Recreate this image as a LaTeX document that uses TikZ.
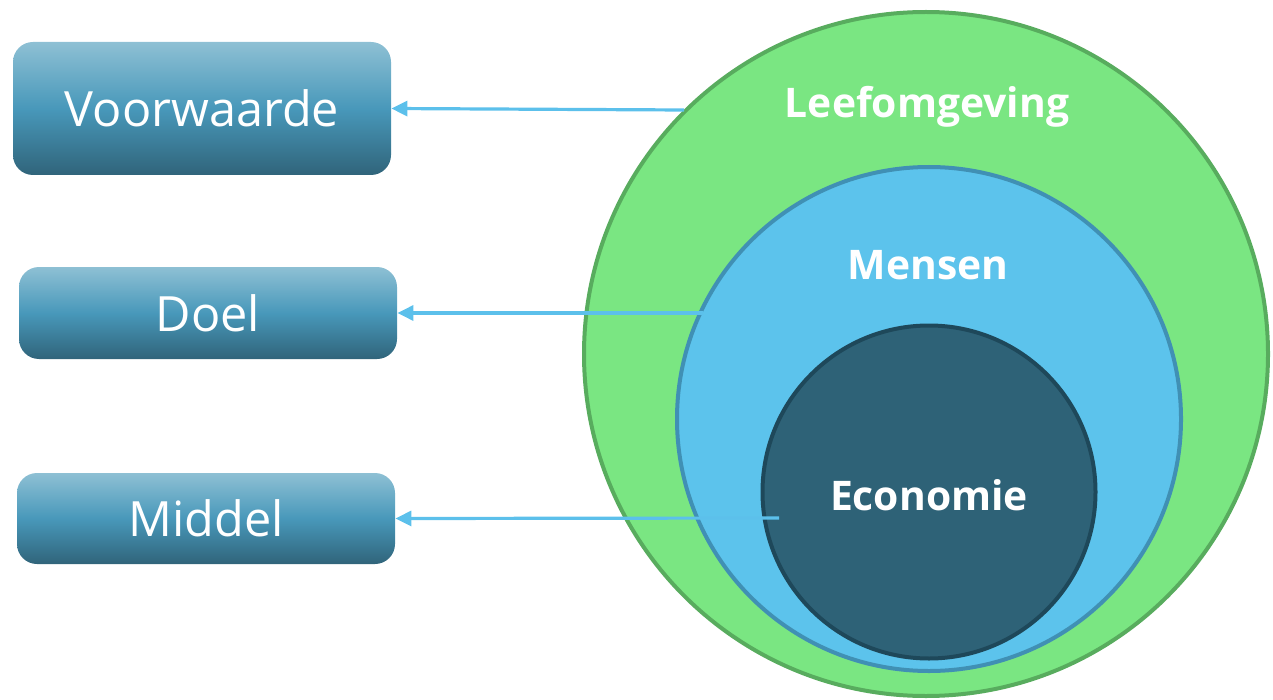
\documentclass[tikz,border=0pt]{standalone}
\usepackage{fontspec}
\setmainfont{Open Sans}
\usetikzlibrary{arrows.meta}

\definecolor{boxtop}{RGB}{142,192,212}
\definecolor{boxmid}{RGB}{72,152,186}
\definecolor{boxbot}{RGB}{48,100,122}
\definecolor{greenfill}{RGB}{122,230,130}
\definecolor{greenline}{RGB}{88,172,94}
\definecolor{bluefill}{RGB}{92,195,236}
\definecolor{blueline}{RGB}{64,144,180}
\definecolor{darkfill}{RGB}{46,98,119}
\definecolor{darkline}{RGB}{30,72,90}
\definecolor{arrowcol}{RGB}{92,192,235}

\begin{document}
\begin{tikzpicture}[x=0.5pt, y=-0.5pt,
    box/.style={rectangle, rounded corners=10pt, minimum width=189pt, text=white,
      top color=boxtop, bottom color=boxbot, middle color=boxmid, font=\fontsize{24.3}{28}\selectfont},
    ring/.style={circle, line width=2pt, inner sep=0pt},
    ringtext/.style={text=white, font=\bfseries\fontsize{20.4}{24}\selectfont},
    link/.style={arrowcol, line width=1.6pt, -{Triangle[length=8pt, width=7.5pt]}}]

		  \useasboundingbox (0,0) rectangle (1273,700);

		  % Circles
		  \node[ring, draw=greenline, fill=greenfill, minimum size=342pt] (C1) at (926,354) {};
		  \node[ring, draw=blueline, fill=bluefill, minimum size=252pt] (C2) at (929,419) {};
		  \node[ring, draw=darkline, fill=darkfill, minimum size=166.5pt] (C3) at (929,492) {};

		  % Circle labels
		  \node[ringtext] (L1) at (927,107) {Leefomgeving};
		  \node[ringtext] (L2) at (928,265) {Mensen};
		  \node[ringtext] (L3) at (929,495) {Economie};

		  % Boxes
		  \node[box, minimum height=66.5pt] (B1) at (202,108.5) {Voorwaarde};
		  \node[box, minimum height=46pt] (B2) at (208,313) {Doel};
		  \node[box, minimum height=45.5pt] (B3) at (206,518.5) {Middel};

		  % Arrow starts
		  \coordinate (S1) at (684,110);
		  \coordinate (S2) at (703,313);
		  \coordinate (S3) at (779,518);

		  % Draw arrows from circles to boxes
		  \foreach \i in {1,2,3} {
		    \draw[link] (S\i) -- (B\i.east);
		  }

		\end{tikzpicture}
\end{document}
